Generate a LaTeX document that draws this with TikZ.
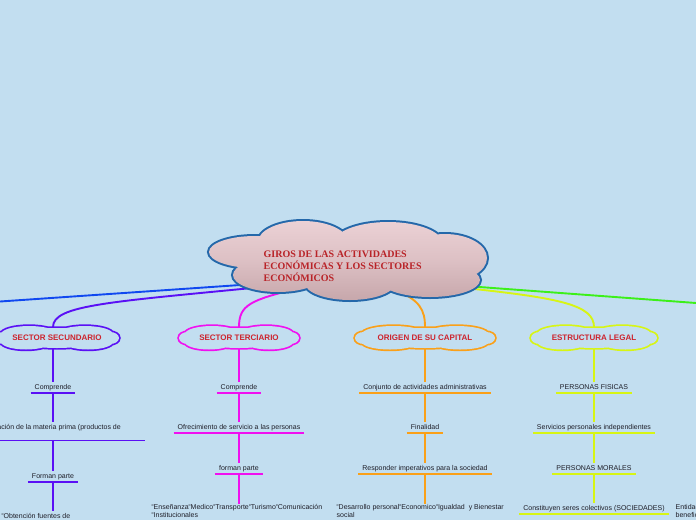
\documentclass[tikz,border=0pt]{standalone}
\usepackage{fontspec}
\setmainfont{Liberation Sans}
\newfontfamily\titlefont{Liberation Serif}
\definecolor{bg}{RGB}{194,222,240}
\definecolor{rootline}{RGB}{36,104,170}
\definecolor{rootTop}{RGB}{236,210,214}
\definecolor{rootBot}{RGB}{198,166,170}
\definecolor{titlered}{RGB}{185,35,40}
\definecolor{headred}{RGB}{205,35,45}
\definecolor{cblue}{RGB}{16,72,240}
\definecolor{cpurple}{RGB}{90,16,245}
\definecolor{cmag}{RGB}{240,16,240}
\definecolor{corange}{RGB}{250,160,25}
\definecolor{cyellow}{RGB}{215,245,20}
\definecolor{cgreen}{RGB}{60,240,25}
\definecolor{txt}{RGB}{30,30,40}
\newcommand\mk{\raisebox{2.4pt}{\fontsize{3.6}{3.6}\selectfont o}}
\newcommand\smallcloud[4]{%
 \draw[#4, line width=3.4pt]
  ({#1-0.45*#3},{#2-4}) ellipse [x radius={0.45*#3}, y radius=8]
  ({#1+0.45*#3},{#2-4}) ellipse [x radius={0.45*#3}, y radius=8]
  ({#1-0.5*#3},{#2+4}) ellipse [x radius={0.4*#3}, y radius=7.5]
  ({#1+0.5*#3},{#2+4}) ellipse [x radius={0.4*#3}, y radius=7.5]
  ({#1-#3+9},{#2}) ellipse [x radius=9, y radius=6]
  ({#1+#3-9},{#2}) ellipse [x radius=9, y radius=6]
  (#1,#2) ellipse [x radius={0.7*#3}, y radius=10];
 \fill[bg]
  ({#1-0.45*#3},{#2-4}) ellipse [x radius={0.45*#3}, y radius=8]
  ({#1+0.45*#3},{#2-4}) ellipse [x radius={0.45*#3}, y radius=8]
  ({#1-0.5*#3},{#2+4}) ellipse [x radius={0.4*#3}, y radius=7.5]
  ({#1+0.5*#3},{#2+4}) ellipse [x radius={0.4*#3}, y radius=7.5]
  ({#1-#3+9},{#2}) ellipse [x radius=9, y radius=6]
  ({#1+#3-9},{#2}) ellipse [x radius=9, y radius=6]
  (#1,#2) ellipse [x radius={0.7*#3}, y radius=10];
}
\newcommand\ulnode[2]{\draw[ul,#2] (#1.south west) -- (#1.south east);}
\begin{document}
\begin{tikzpicture}[x=1pt,y=-1pt,
  lbl/.style={font=\fontsize{7}{8}\selectfont, text=txt, inner xsep=4pt, inner ysep=2pt, text height=5pt, text depth=1.5pt, anchor=base},
  btxt/.style={font=\fontsize{7}{7.8}\selectfont, text=txt, inner sep=0.5pt, align=left, anchor=north west},
  head/.style={font=\fontsize{8}{8.5}\selectfont\bfseries, text=headred, inner sep=0pt},
  conn/.style={line width=1.9pt},
  ul/.style={line width=1.9pt},
  br/.style={line width=1.9pt}]
\useasboundingbox (0,0) rectangle (696,520);
\clip (0,0) rectangle (696,520);
\fill[bg] (0,0) rectangle (696,520);

% connector anchors
\coordinate (pBlue) at (262,283.5);
\coordinate (pPur) at (262,287);
\coordinate (pMag) at (300,288);
\coordinate (pOra) at (395,290);
\coordinate (pYel) at (465,288);
\coordinate (pGre) at (470,286.3);
\coordinate (blueEnd) at (0,301.5);
\coordinate (greenEnd) at (696,303);
\coordinate (secTop) at (53,327);
\coordinate (terTop) at (239,327);
\coordinate (oriTop) at (425,327);
\coordinate (estTop) at (594,327);

\draw[conn,cblue] (pBlue) -- (blueEnd);
\draw[conn,cgreen] (pGre) -- (greenEnd);
\draw[conn,cpurple] (pPur) .. controls (110,302) and (53,305) .. (secTop);
\draw[conn,cmag] (pMag) .. controls (250,300) and (239,305) .. (terTop);
\draw[conn,corange] (pOra) .. controls (420,300) and (425,310) .. (oriTop);
\draw[conn,cyellow] (pYel) .. controls (560,298) and (594,305) .. (estTop);

% root cloud
\draw[rootline, line width=4pt]
  (255,252) ellipse [x radius=46, y radius=16]
  (303,242) ellipse [x radius=45, y radius=21]
  (388,244) ellipse [x radius=55, y radius=22]
  (445,258) ellipse [x radius=42, y radius=24]
  (430,280) ellipse [x radius=50, y radius=17]
  (350,283) ellipse [x radius=45, y radius=17]
  (278,275) ellipse [x radius=45, y radius=17]
  (350,260) ellipse [x radius=110, y radius=28];
\begin{scope}
\clip
  (255,252) ellipse [x radius=46, y radius=16]
  (303,242) ellipse [x radius=45, y radius=21]
  (388,244) ellipse [x radius=55, y radius=22]
  (445,258) ellipse [x radius=42, y radius=24]
  (430,280) ellipse [x radius=50, y radius=17]
  (350,283) ellipse [x radius=45, y radius=17]
  (278,275) ellipse [x radius=45, y radius=17]
  (350,260) ellipse [x radius=110, y radius=28];
\shade[top color=rootTop, bottom color=rootBot, middle color=rootTop!60!rootBot] (200,218) rectangle (500,302);
\end{scope}
\node[font=\titlefont\bfseries\fontsize{10}{11.8}\selectfont, text=titlered, align=left, anchor=north west, inner sep=0pt] (root) at (263.5,251)
  {GIROS DE LAS ACTIVIDADES\\ECONÓMICAS Y LOS SECTORES\\ECONÓMICOS};

% sub clouds
\smallcloud{57}{338}{62}{cpurple}
\node[head] (sec) at (57,338) {SECTOR SECUNDARIO};
\smallcloud{239}{338}{60}{cmag}
\node[head] (ter) at (239,338) {SECTOR TERCIARIO};
\smallcloud{425}{338}{70}{corange}
\node[head] (ori) at (425,338) {ORIGEN DE SU CAPITAL};
\smallcloud{594}{338}{63}{cyellow}
\node[head] (est) at (594,338) {ESTRUCTURA LEGAL};

\coordinate (secBot) at (53,349);
\coordinate (terBot) at (239,349);
\coordinate (oriBot) at (425,349);
\coordinate (estBot) at (594,349);

% Secundario
\node[lbl] (s1) at (53,389) {Comprende};
\node[lbl, anchor=base east, inner xsep=0pt] (s2) at (121,429) {Transformación de la materia prima (productos de};
\coordinate (s2l) at (-20,440.5);
\coordinate (s2r) at (145,440.5);
\coordinate (s2c) at (53,440.5);
\node[lbl] (s3) at (53,478.5) {Forman parte};
\node[lbl, anchor=base west, inner xsep=0.5pt] (s4) at (1,518) {\mk Obtención fuentes de};
\ulnode{s1}{cpurple}
\ulnode{s3}{cpurple}
\draw[ul,cpurple] (s2l) -- (s2r);
\draw[br,cpurple] (secBot) -- (s1.north);
\draw[br,cpurple] (s1.south) -- (s1.south |- s2.north);
\draw[br,cpurple] (s2c) -- (s3.north);
\draw[br,cpurple] (s3.south) -- (s3.south |- s4.north);

% Terciario
\node[lbl] (t1) at (239,389) {Comprende};
\node[lbl] (t2) at (239,429.5) {Ofrecimiento de servicio a las personas};
\node[lbl] (t3) at (239,470) {forman parte};
\node[btxt] (t4) at (151,503.5) {\mk Enseñanza\mk Medico\mk Transporte\mk Turismo\mk Comunicación\\\mk Institucionales};
\ulnode{t1}{cmag}
\ulnode{t2}{cmag}
\ulnode{t3}{cmag}
\draw[br,cmag] (terBot) -- (t1.north);
\draw[br,cmag] (t1.south) -- (t2.north);
\draw[br,cmag] (t2.south) -- (t3.north);
\draw[br,cmag] (t3.south) -- (t3.south |- t4.north);

% Origen
\node[lbl] (o1) at (425,389) {Conjunto de actividades administrativas};
\node[lbl] (o2) at (425,429.5) {Finalidad};
\node[lbl] (o3) at (425,470) {Responder imperativos para la sociedad};
\node[btxt] (o4) at (336,503.5) {\mk Desarrollo personal\mk Economico\mk Igualdad\ \ y Bienestar\\social};
\ulnode{o1}{corange}
\ulnode{o2}{corange}
\ulnode{o3}{corange}
\draw[br,corange] (oriBot) -- (o1.north);
\draw[br,corange] (o1.south) -- (o2.north);
\draw[br,corange] (o2.south) -- (o3.north);
\draw[br,corange] (o3.south) -- (o3.south |- o4.north);

% Estructura
\node[lbl] (e1) at (594,389) {PERSONAS FISICAS};
\node[lbl] (e2) at (594,429.5) {Servicios personales independientes};
\node[lbl] (e3) at (594,470) {PERSONAS MORALES};
\node[lbl] (e4) at (594,510) {Constituyen seres colectivos (SOCIEDADES)};
\ulnode{e1}{cyellow}
\ulnode{e2}{cyellow}
\ulnode{e3}{cyellow}
\ulnode{e4}{cyellow}
\draw[br,cyellow] (estBot) -- (e1.north);
\draw[br,cyellow] (e1.south) -- (e2.north);
\draw[br,cyellow] (e2.south) -- (e3.north);
\draw[br,cyellow] (e3.south) -- (e4.north);

\node[btxt] (ent) at (675,503.5) {Entidades\\beneficencia};
\end{tikzpicture}
\end{document}
